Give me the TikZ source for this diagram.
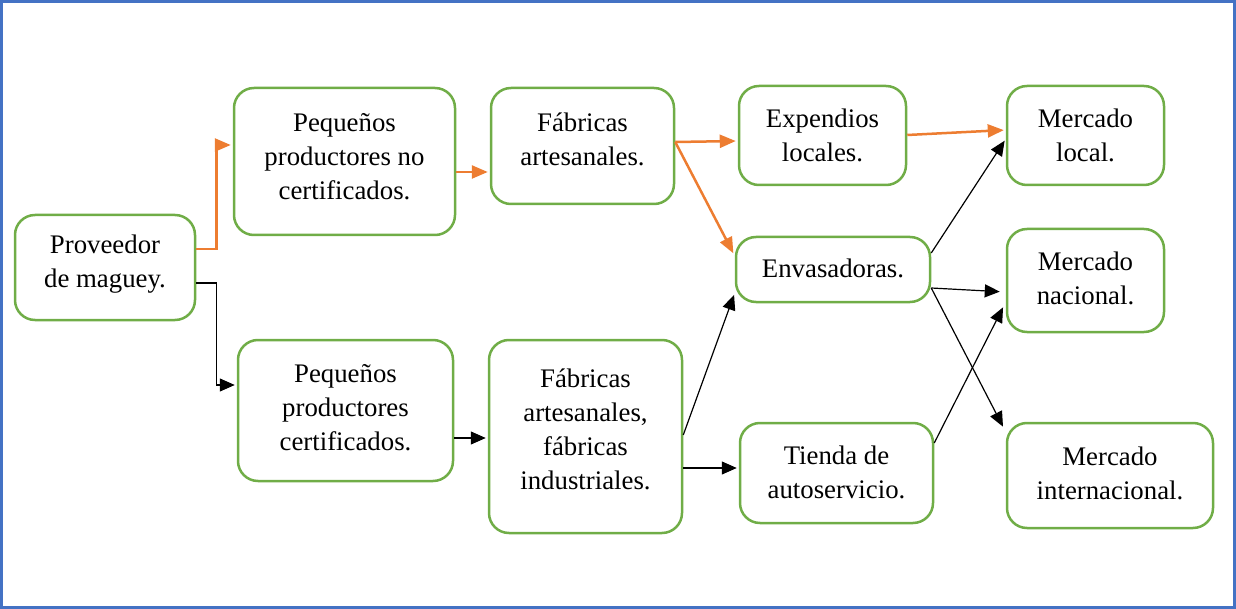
\documentclass[tikz,border=0pt]{standalone}
\usepackage{fontspec}
\setmainfont{Liberation Serif}
\usetikzlibrary{arrows.meta}
\definecolor{boxgreen}{HTML}{70AD47}
\definecolor{arrorange}{HTML}{ED7D31}
\definecolor{frameblue}{HTML}{4472C4}
\begin{document}
\begin{tikzpicture}[x=0.5pt,y=-0.5pt,
  box/.style={draw=boxgreen, line width=1.25pt, rounded corners=10pt, inner sep=0pt},
  txt/.style={align=center, font=\fontsize{13.4}{17}\selectfont, inner sep=0pt},
  orarrow/.style={draw=arrorange, line width=1.25pt, -{Triangle[length=8pt,width=6.5pt]}, shorten >=1pt},
  blarrow/.style={draw=black, line width=0.6pt, -{Triangle[length=7.5pt,width=6.5pt]}, shorten >=1pt}]
\useasboundingbox (0,0) rectangle (1236,609);
\draw[frameblue, line width=1.5pt] (1.5,1.5) rectangle (1234.5,607.5);

\node[box, minimum width=90pt, minimum height=52.5pt] (prov) at (105,267.5) {};
\node[txt] (provt) at (105,264) {Proveedor\\de maguey.};
\node[box, minimum width=110.5pt, minimum height=73.5pt] (pnc) at (344.5,161.5) {};
\node[txt] (pnct) at (344.5,157) {Pequeños\\productores no\\certificados.};
\node[box, minimum width=91.5pt, minimum height=58pt] (fa) at (582.5,146) {};
\node[txt] (fat) at (582.5,139.5) {Fábricas\\artesanales.};
\node[box, minimum width=83.5pt, minimum height=49.5pt] (exp) at (822.5,135.5) {};
\node[txt] (expt) at (822.5,135) {Expendios\\locales.};
\node[box, minimum width=78.5pt, minimum height=49.5pt] (ml) at (1085.5,135.5) {};
\node[txt] (mlt) at (1085.5,135) {Mercado\\local.};
\node[box, minimum width=97pt, minimum height=32.5pt] (env) at (833,269.5) {};
\node[txt] (envt) at (833,268.5) {Envasadoras.};
\node[box, minimum width=78.5pt, minimum height=51.5pt] (mn) at (1085.5,280.5) {};
\node[txt] (mnt) at (1085.5,278.5) {Mercado\\nacional.};
\node[box, minimum width=107.5pt, minimum height=70.5pt] (pc) at (345.5,410.5) {};
\node[txt] (pct) at (345.5,408) {Pequeños\\productores\\certificados.};
\node[box, minimum width=96.5pt, minimum height=96.5pt] (fi) at (585.5,436.5) {};
\node[txt] (fit) at (585.5,429.5) {Fábricas\\artesanales,\\fábricas\\industriales.};
\node[box, minimum width=96.5pt, minimum height=50pt] (ti) at (836.5,473) {};
\node[txt] (tit) at (836.5,472) {Tienda de\\autoservicio.};
\node[box, minimum width=103pt, minimum height=52.5pt] (mi) at (1110,475.5) {};
\node[txt] (mit) at (1110,473.5) {Mercado\\internacional.};

% orange connectors
\draw[orarrow] (prov.east |- 0,249) -- ++(20,0) |- (pnc.west |- 0,145);
\draw[orarrow] (pnc.east |- 0,172) -- (fa.west |- 0,172);
\draw[orarrow] (fa.east |- 0,142) -- (exp.west |- 0,141);
\draw[orarrow, shorten >=1.5pt] (fa.east |- 0,142) -- (env.west |- 0,256);
\draw[orarrow] (exp.east |- 0,135) -- (ml.west |- 0,130);

% black connectors
\draw[blarrow] (prov.east |- 0,283) -- ++(20,0) |- (pc.west |- 0,385);
\draw[blarrow] (pc.east |- 0,438) -- (fi.west |- 0,438);
\draw[blarrow] (fi.east |- 0,435) -- (env.west |- 0,293);
\draw[blarrow] (fi.east |- 0,468) -- (ti.west |- 0,468);
\draw[blarrow] (env.east |- 0,253) -- (ml.west |- 0,139);
\draw[blarrow, shorten >=3pt] (env.east |- 0,288) -- (mn.west |- 0,292);
\draw[blarrow, shorten >=3pt] (env.east |- 0,288) -- (mi.west |- 0,432);
\draw[blarrow, shorten >=3pt] (ti.east |- 0,443) -- (mn.west |- 0,302);
\end{tikzpicture}
\end{document}
